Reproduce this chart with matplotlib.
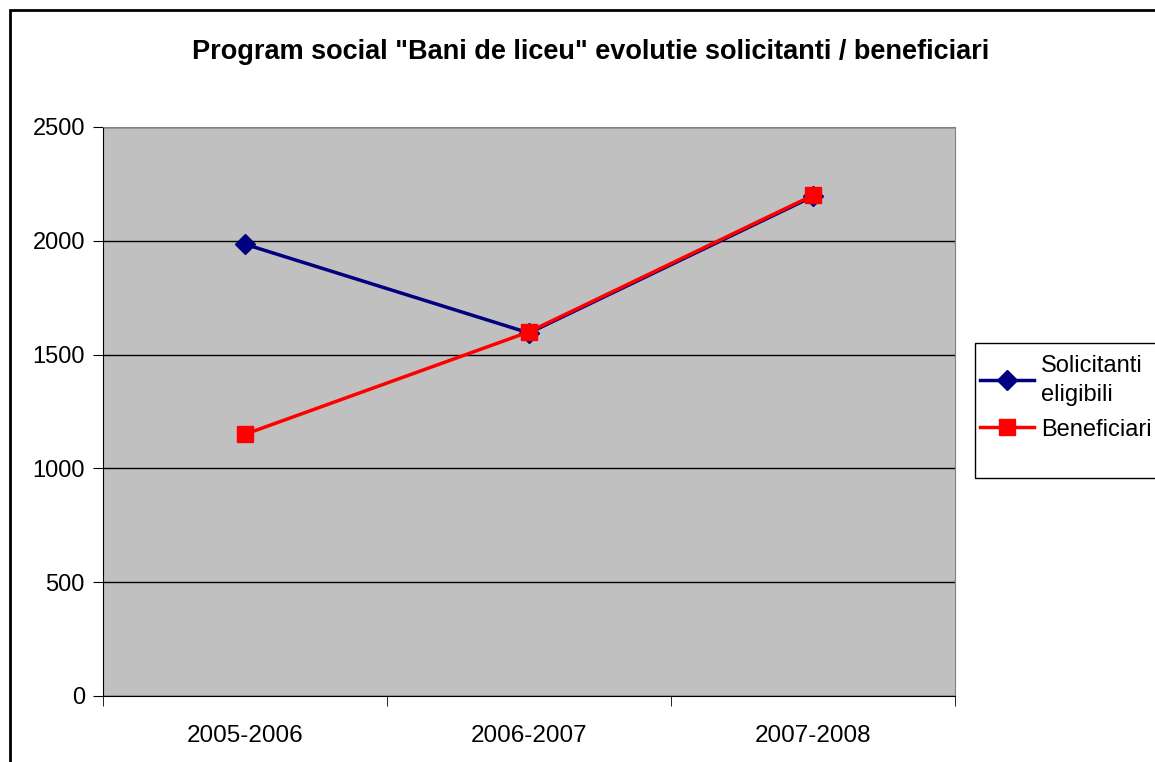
import numpy as np
import matplotlib.pyplot as plt
from matplotlib.patches import Rectangle

plt.rcParams['font.family'] = ['Liberation Sans', 'DejaVu Sans']

years = ['2005-2006', '2006-2007', '2007-2008']
solicitanti = [1985, 1595, 2195]
beneficiari = [1150, 1600, 2200]

fig = plt.figure(figsize=(11.55, 7.62), dpi=100)
ax = fig.add_axes([103 / 1155, 66 / 762, 852 / 1155, 569 / 762])
ax.set_facecolor('#c0c0c0')

x = np.arange(len(years))
ax.plot(x, solicitanti, color='#000080', lw=2.5, marker='D', ms=10,
        label='Solicitanti\neligibili', zorder=3)
ax.plot(x, beneficiari, color='#ff0000', lw=2.5, marker='s', ms=12,
        label='Beneficiari', zorder=4)

ax.set_xlim(-0.5, 2.5)
ax.set_ylim(0, 2500)
ax.set_yticks(range(0, 2501, 500))
ax.yaxis.grid(True, color='black', lw=1)
ax.set_axisbelow(True)
ax.set_xticks(x)
ax.set_xticklabels(years)
ax.set_xticks([-0.5, 0.5, 1.5, 2.5], minor=True)
ax.tick_params(axis='x', which='major', length=0, pad=21, labelsize=17.5)
ax.tick_params(axis='x', which='minor', length=7, direction='out', color='black')
ax.tick_params(axis='y', length=7, direction='out', labelsize=17, pad=6)
for s in ['top', 'right']:
    ax.spines[s].set_color('#808080')
for s in ['left', 'bottom']:
    ax.spines[s].set_color('black')

fig.text(591 / 1155, 1 - 52 / 762,
         'Program social "Bani de liceu" evolutie solicitanti / beneficiari',
         ha='center', va='center', fontsize=19.5, fontweight='bold')

leg = fig.legend(loc='upper left', bbox_to_anchor=(975 / 1155, 1 - 350 / 762),
                 fontsize=17, frameon=False, handlelength=2.3,
                 borderpad=0.2, labelspacing=0.55, handletextpad=0.3,
                 borderaxespad=0)
for t in leg.get_texts():
    t.set_linespacing(1.4)

fig.patches.append(Rectangle((975 / 1155, 1 - 478 / 762), 0.3, 135 / 762,
                             transform=fig.transFigure, fill=False,
                             edgecolor='black', lw=1))
fig.patches.append(Rectangle((10 / 1155, -0.1), 1.2, 1 - 10 / 762 + 0.1,
                             transform=fig.transFigure, fill=False,
                             edgecolor='black', lw=2))

fig.savefig('out.png', dpi=100)
